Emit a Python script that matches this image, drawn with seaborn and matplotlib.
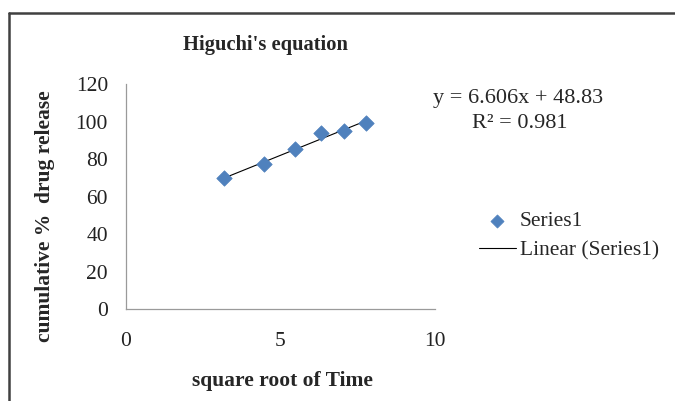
import matplotlib
matplotlib.use("Agg")
import matplotlib.pyplot as plt
from matplotlib.lines import Line2D
import seaborn as sns
import numpy as np
import pandas as pd

# values
sqrt_time = [3.16, 4.47, 5.48, 6.32, 7.07, 7.75]
drug_release = [69.8, 77.2, 85.4, 93.9, 95.0, 99.1]
x_ticks = [0, 5, 10]
y_ticks = [0, 20, 40, 60, 80, 100, 120]
eq_text = "y = 6.606x + 48.83"
r2_text = "R² = 0.981"

df = pd.DataFrame({"x": sqrt_time, "y": drug_release})

sns.set_style("white")
plt.rcParams["font.family"] = ["Liberation Serif", "DejaVu Serif"]

fig = plt.figure(figsize=(6.75, 4.01), dpi=100)
ax = fig.add_axes([0.1867, 0.2287, 0.4578, 0.5618])

sns.scatterplot(data=df, x="x", y="y", marker="D", s=62, color="#4F81BD",
                edgecolor="#4F81BD", linewidth=0.5, label="Series1", ax=ax, zorder=3)

# linear trendline over the data range
slope, intercept = np.polyfit(df["x"], df["y"], 1)
fit = pd.DataFrame({"x": [df["x"].min(), df["x"].max()]})
fit["y"] = slope * fit["x"] + intercept
sns.lineplot(data=fit, x="x", y="y", color="black", linewidth=0.8,
             label="Linear (Series1)", ax=ax, zorder=2)

ax.set_xlim(0, 10)
ax.set_ylim(0, 120)
ax.set_xticks(x_ticks)
ax.set_yticks(y_ticks)
ax.tick_params(axis="both", length=0, labelsize=15.5, labelcolor="#222222")
ax.tick_params(axis="x", pad=16)
ax.tick_params(axis="y", pad=13)
for side in ["top", "right"]:
    ax.spines[side].set_visible(False)
for side in ["left", "bottom"]:
    ax.spines[side].set_color("#9a9a9a")
    ax.spines[side].set_linewidth(0.9)

ax.set_xlabel("")
ax.set_ylabel("")
fig.text(0.418, 0.05, "square root of Time", fontsize=15.5, fontweight="bold",
         ha="center", va="center")
fig.text(0.066, 0.46, "cumulative %  drug release", fontsize=15.5, fontweight="bold",
         ha="center", va="center", rotation=90)
fig.text(0.393, 0.888, "Higuchi's equation", fontsize=14.8, fontweight="bold",
         ha="center", va="center")

fig.text(0.641, 0.755, eq_text, fontsize=16, ha="left", va="center")
fig.text(0.699, 0.693, r2_text, fontsize=16, ha="left", va="center")

ax.legend(loc="upper left", bbox_to_anchor=(0.697, 0.495), bbox_transform=fig.transFigure,
          frameon=False, fontsize=15.5, handlelength=1.7, handletextpad=0.2,
          labelspacing=0.45, borderaxespad=0, markerscale=0.85)

# chart area border (left and top edges visible)
fig.add_artist(Line2D([0.0133, 0.0133], [0.0, 0.9676], transform=fig.transFigure,
                      color="#404040", linewidth=1.8))
fig.add_artist(Line2D([0.0133, 1.0], [0.9676, 0.9676], transform=fig.transFigure,
                      color="#404040", linewidth=1.8))

fig.savefig("out.png", dpi=100)
